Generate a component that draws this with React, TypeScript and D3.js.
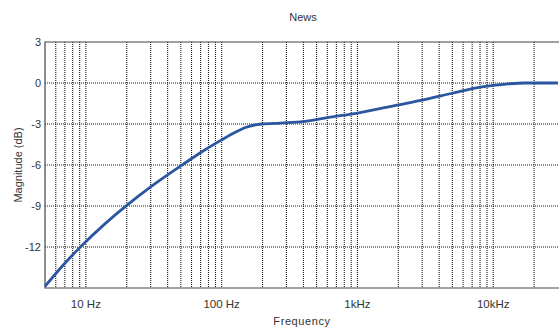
import React, { useEffect, useRef } from "react";
import * as d3 from "d3";

// frequency response
const freqs = [5, 7, 8.9, 14, 20, 30, 52, 75, 100, 125, 152, 197, 270, 400, 630, 1000, 2000, 3000, 5000, 8000, 10000, 13000, 17000, 30000];
const gains = [-14.88, -13.19, -12.1, -10.25, -8.95, -7.6, -5.95, -4.9, -4.16, -3.62, -3.24, -3.0, -2.93, -2.83, -2.5, -2.2, -1.6, -1.25, -0.75, -0.3, -0.17, -0.06, 0, 0];

const yTicks = [3, 0, -3, -6, -9, -12];
const xTicks = [10, 100, 1000, 10000];
const xTickLabels = ["10 Hz", "100 Hz", "1kHz", "10kHz"];

const W = 559;
const H = 329;

const App = () => {
  const ref = useRef<SVGSVGElement>(null);

  useEffect(() => {
    const svg = d3.select(ref.current);
    svg.selectAll("*").remove();

    const x = d3.scaleLog().domain([5, 30000]).range([45, 558]);
    const y = d3.scaleLinear().domain([-15, 3]).range([288, 42]);
    const font = "Liberation Sans, Arial, sans-serif";

    // vertical grid: every 1..9 of each decade
    const minor: number[] = [];
    [1, 10, 100, 1000, 10000].forEach(dec => {
      for (let k = 1; k <= 9; k++) {
        const f = dec * k;
        if (f > 5 && f < 30000) minor.push(f);
      }
    });

    svg.append("g")
      .selectAll("line")
      .data(minor)
      .enter()
      .append("line")
      .attr("x1", d => x(d))
      .attr("x2", d => x(d))
      .attr("y1", y(3))
      .attr("y2", y(-15))
      .attr("stroke", "#1a1a1a")
      .attr("stroke-width", 1.1)
      .attr("stroke-dasharray", "1,1");

    svg.append("g")
      .selectAll("line")
      .data(yTicks.filter(t => t !== 3))
      .enter()
      .append("line")
      .attr("x1", x(5))
      .attr("x2", W)
      .attr("y1", d => y(d))
      .attr("y2", d => y(d))
      .attr("stroke", "#1a1a1a")
      .attr("stroke-width", 1.1)
      .attr("stroke-dasharray", "1,1");

    // frame
    svg.append("path")
      .attr("d", `M${W},${y(3)}H${x(5)}V${y(-15)}H${W}`)
      .attr("fill", "none")
      .attr("stroke", "#444")
      .attr("stroke-width", 1.2);

    // curve
    const line = d3.line<number>()
      .x((_, i) => x(freqs[i]))
      .y(d => y(d))
      .curve(d3.curveMonotoneX);

    svg.append("path")
      .datum(gains)
      .attr("d", line)
      .attr("fill", "none")
      .attr("stroke", "#2b56a0")
      .attr("stroke-width", 2.8);

    // y tick labels
    svg.append("g")
      .selectAll("text")
      .data(yTicks)
      .enter()
      .append("text")
      .attr("x", 41)
      .attr("y", d => y(d) + 4)
      .attr("text-anchor", "end")
      .attr("font-family", font)
      .attr("font-size", 11)
      .attr("fill", "#333")
      .text(d => d);

    // x tick labels
    svg.append("g")
      .selectAll("text")
      .data(xTicks)
      .enter()
      .append("text")
      .attr("x", d => x(d))
      .attr("y", 308)
      .attr("text-anchor", "middle")
      .attr("font-family", font)
      .attr("font-size", 11.5)
      .attr("fill", "#333")
      .text((_, i) => xTickLabels[i]);

    // titles
    svg.append("text")
      .attr("x", 303)
      .attr("y", 21)
      .attr("text-anchor", "middle")
      .attr("font-family", font)
      .attr("font-size", 11)
      .attr("fill", "#333")
      .text("News");

    svg.append("text")
      .attr("x", 302)
      .attr("y", 325)
      .attr("text-anchor", "middle")
      .attr("font-family", font)
      .attr("font-size", 11)
      .attr("letter-spacing", 0.6)
      .attr("fill", "#333")
      .text("Frequency");

    svg.append("text")
      .attr("transform", `translate(22,165) rotate(-90)`)
      .attr("text-anchor", "middle")
      .attr("font-family", font)
      .attr("font-size", 11)
      .attr("fill", "#333")
      .text("Magnitude (dB)");
  }, []);

  return (
    <svg
      ref={ref}
      width={W}
      height={H}
      style={{ position: "absolute", left: 0, top: 0, background: "#fff" }}
    />
  );
};

export default App;
